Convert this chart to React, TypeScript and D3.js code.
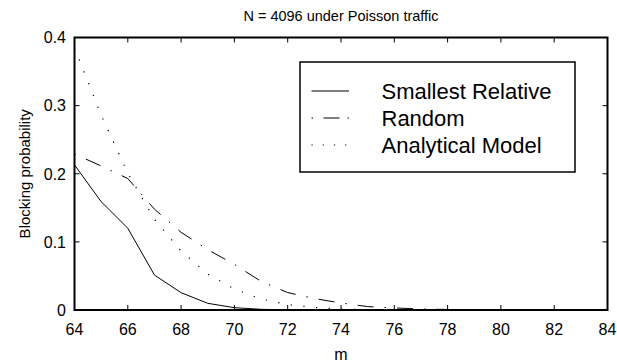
import React from "react";
import * as d3 from "d3";

const mValues = [64, 65, 66, 67, 68, 69, 70, 71, 72, 73, 74, 75, 76, 77, 78, 79, 80, 81, 82, 83, 84];
const smallestRelative = [0.213, 0.159, 0.12, 0.0513, 0.0254, 0.0098, 0.0034, 0.001, 0.0003, 0.0001, 0, 0, 0, 0, 0, 0, 0, 0, 0, 0, 0];
const randomSel = [0.229, 0.2114, 0.193, 0.148, 0.114, 0.0886, 0.067, 0.042, 0.0256, 0.0168, 0.0103, 0.005, 0.003, 0.0015, 0.0008, 0.0003, 0.0001, 0, 0, 0, 0];
const analytical = [0.385, 0.286, 0.201, 0.133, 0.0864, 0.0527, 0.0308, 0.0161, 0.008, 0.0037, 0.0015, 0.0006, 0.0002, 0.0001, 0, 0, 0, 0, 0, 0, 0];
const xTicks = [64, 66, 68, 70, 72, 74, 76, 78, 80, 82, 84];
const yTicks = [0, 0.1, 0.2, 0.3, 0.4];
const yTickLabels = ["0", "0.1", "0.2", "0.3", "0.4"];
const seriesNames = ["Smallest Relative", "Random", "Analytical Model"];
const titleText = "N = 4096 under Poisson traffic";
const xLabel = "m";
const yLabel = "Blocking probability";

const FONT = "'Liberation Sans', Arial, Helvetica, sans-serif";

export default function App() {
  const W = 617, H = 364;
  const left = 74.5, right = 607.5, top = 37.5, bottom = 310;
  const x = d3.scaleLinear().domain([64, 84]).range([left, right]);
  const y = d3.scaleLinear().domain([0, 0.4]).range([bottom, top]);
  const line = d3.line<[number, number]>().x(d => x(d[0])).y(d => y(d[1]));
  const mk = (vals: number[]) => line(mValues.map((m, i) => [m, vals[i]] as [number, number])) || "";

  const styles = [
    { dash: undefined as string | undefined, width: 1 },
    { dash: "1.5 11 16 11", width: 1 },
    { dash: "1.2 11.5", width: 1.2 },
  ];
  const data = [smallestRelative, randomSel, analytical];

  const legX = 300, legY = 62, legW = 275, legH = 110;
  const rowY = [91, 118, 145];

  return (
    <svg width={W} height={H} style={{ position: "absolute", left: 0, top: 0, background: "#fff" }}>
      <rect x={0} y={0} width={W} height={H} fill="#fff" />
      <defs>
        <clipPath id="plot">
          <rect x={left} y={top} width={right - left} height={bottom - top} />
        </clipPath>
      </defs>
      <g clipPath="url(#plot)">
        {data.map((vals, i) => (
          <path key={i} d={mk(vals)} fill="none" stroke="#000" strokeWidth={styles[i].width}
            strokeDasharray={styles[i].dash} />
        ))}
      </g>
      {xTicks.map(t => (
        <g key={"xt" + t}>
          <line x1={x(t)} x2={x(t)} y1={bottom} y2={bottom - 5} stroke="#000" strokeWidth={1} />
          <line x1={x(t)} x2={x(t)} y1={top} y2={top + 5} stroke="#000" strokeWidth={1} />
          <text x={x(t)} y={335} textAnchor="middle" fontFamily={FONT} fontSize={16}>{t}</text>
        </g>
      ))}
      {yTicks.map((t, i) => (
        <g key={"yt" + t}>
          <line x1={left} x2={left + 5} y1={y(t)} y2={y(t)} stroke="#000" strokeWidth={1} />
          <line x1={right} x2={right - 5} y1={y(t)} y2={y(t)} stroke="#000" strokeWidth={1} />
          <text x={66} y={y(t)} dy="0.36em" textAnchor="end" fontFamily={FONT} fontSize={16}>{yTickLabels[i]}</text>
        </g>
      ))}
      <rect x={left} y={top} width={right - left} height={bottom - top} fill="none" stroke="#000" strokeWidth={2} />
      <rect x={legX} y={legY} width={legW} height={legH} fill="#fff" stroke="#000" strokeWidth={1.5} />
      {seriesNames.map((n, i) => (
        <g key={n}>
          <line x1={311.5} x2={349} y1={rowY[i]} y2={rowY[i]} stroke="#000" strokeWidth={styles[i].width}
            strokeDasharray={i === 1 ? "1.5 10.5 16 8 1.5 50" : i === 2 ? "1.2 10" : undefined} />
          <text x={381.5} y={rowY[i]} dy="0.36em" fontFamily={FONT} fontSize={22}>{n}</text>
        </g>
      ))}
      <text x={(left + right) / 2} y={21} textAnchor="middle" fontFamily={FONT} fontSize={14.5}>{titleText}</text>
      <text x={(left + right) / 2} y={360} textAnchor="middle" fontFamily={FONT} fontSize={16}>{xLabel}</text>
      <text transform={`translate(29.5, ${(top + bottom) / 2}) rotate(-90)`} textAnchor="middle" fontFamily={FONT} fontSize={15}>{yLabel}</text>
    </svg>
  );
}
